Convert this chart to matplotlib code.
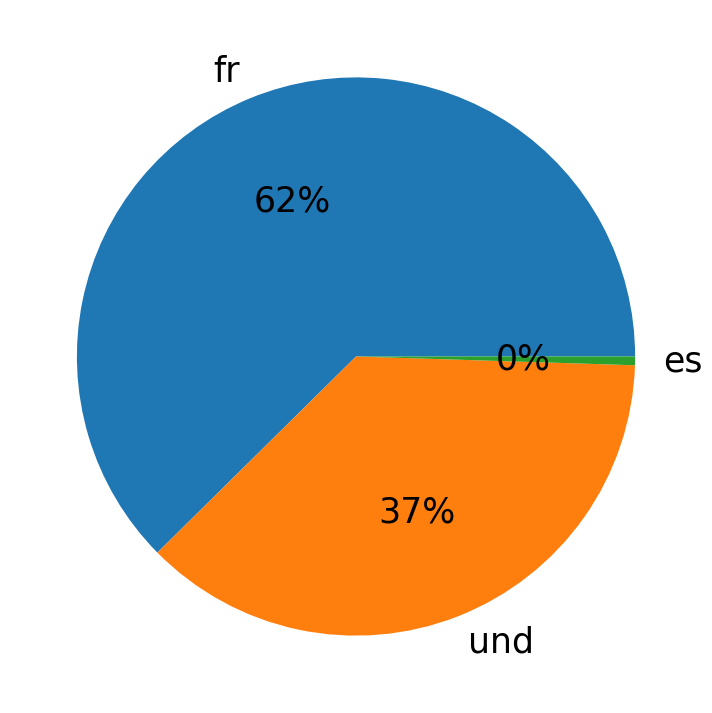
import matplotlib
matplotlib.use("Agg")
import matplotlib.pyplot as plt

labels = ['fr', 'und', 'es']
counts = [62.4, 37.1, 0.5]

fig, ax = plt.subplots(figsize=(7.12, 7.13), dpi=100)
ax.pie(counts, labels=labels, autopct='%1.0f%%', textprops={'fontsize': 25})
plt.subplots_adjust(left=0.01, right=0.99, top=0.99, bottom=0.01)
fig.savefig('out.png')
